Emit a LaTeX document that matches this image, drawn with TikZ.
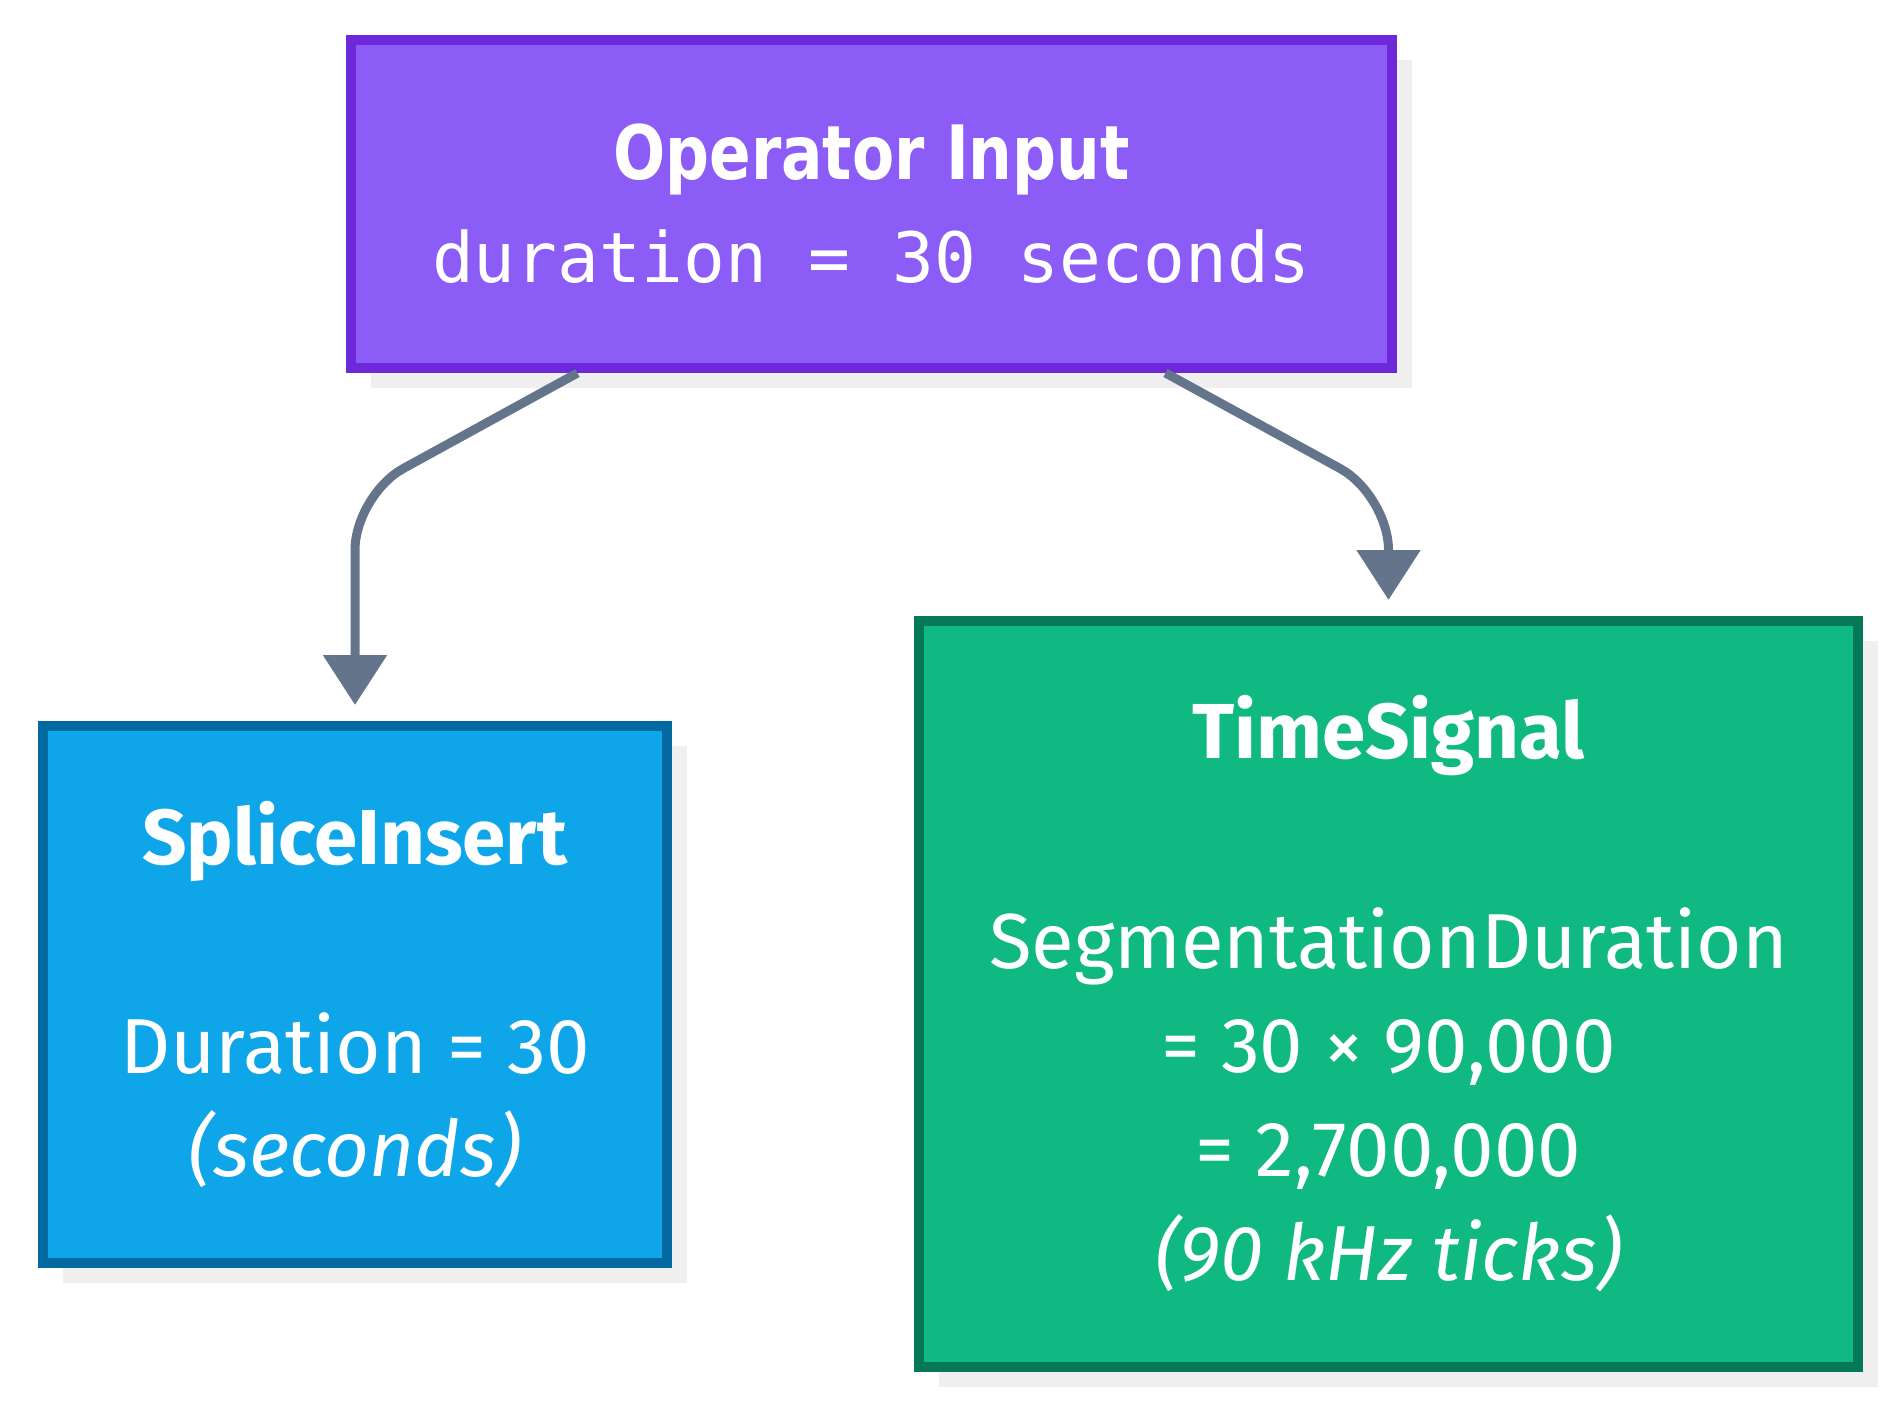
\documentclass[tikz,border=0pt]{standalone}
\usepackage{fontspec}
\setmainfont{Fira Sans}
\newfontfamily\headfont[FakeStretch=0.91]{DejaVu Sans Condensed}
\newfontfamily\codefont{DejaVu Sans Mono}
\usetikzlibrary{arrows.meta,shadows,calc}

\definecolor{opfill}{HTML}{8B5CF6}
\definecolor{opline}{HTML}{6D28D9}
\definecolor{spfill}{HTML}{0EA5E9}
\definecolor{spline}{HTML}{0369A1}
\definecolor{tsfill}{HTML}{10B981}
\definecolor{tsline}{HTML}{047857}
\definecolor{shade}{HTML}{EFEFEF}
\definecolor{wire}{HTML}{64748B}

\tikzset{
  card/.style={draw, line width=10pt, inner sep=0pt, align=center,
    text=white,
    general shadow={fill=shade, shadow xshift=20pt, shadow yshift=-20pt}},
  conn/.style={draw=wire, line width=9pt, rounded corners=55pt,
    -{Triangle[width=62pt,length=50pt]}},
}

\begin{document}
\begin{tikzpicture}[x=1pt,y=-1pt]
  \useasboundingbox (0,0) rectangle (1901,1410);

  % operator entry
  \node[card, fill=opfill, draw=opline,
        minimum width=1041pt, minimum height=328pt,
        font=\fontsize{69.5}{103}\selectfont]
    (op) at (871.5,204)
    {{\headfont\fontsize{75}{103}\selectfont\bfseries Operator Input}\\
     {\codefont duration = 30 seconds}};

  % splice_insert command
  \node[card, fill=spfill, draw=spline,
        minimum width=624pt, minimum height=537pt,
        font=\fontsize{78}{103}\selectfont]
    (si) at (355,994.5)
    {\textbf{SpliceInsert}\\[106pt]
     Duration = 30\\
     \textit{(seconds)}};

  % time_signal command
  \node[card, fill=tsfill, draw=tsline,
        minimum width=939pt, minimum height=746pt,
        font=\fontsize{78}{104}\selectfont]
    (ts) at (1388.5,994)
    {\textbf{TimeSignal}\\[106pt]
     SegmentationDuration\\
     = 30 × 90,000\\
     = 2,700,000\\
     \textit{(90 kHz ticks)}};

  % connectors
  \draw[conn] ([xshift=-294pt]op.south) -- (si.north |- 0,495)
              -- ([yshift=16pt]si.north);
  \draw[conn] ([xshift=294pt]op.south) -- (ts.north |- 0,495)
              -- ([yshift=16pt]ts.north);
\end{tikzpicture}
\end{document}
